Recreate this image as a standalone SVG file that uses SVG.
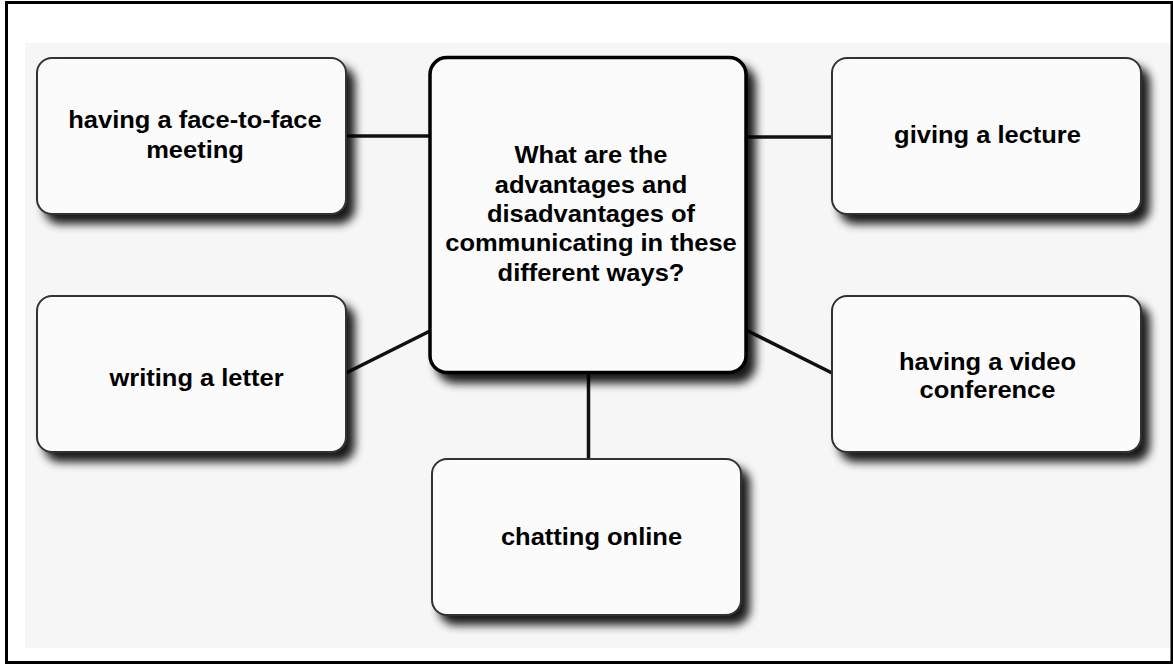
<svg xmlns="http://www.w3.org/2000/svg" width="1173" height="665" viewBox="0 0 1173 665">
  <defs>
    <filter id="shadow" x="-10%" y="-10%" width="130%" height="140%">
      <feGaussianBlur in="SourceAlpha" stdDeviation="5"/>
      <feOffset dx="8" dy="9" result="b"/>
      <feComponentTransfer><feFuncA type="linear" slope="0.9"/></feComponentTransfer>
      <feMerge><feMergeNode/><feMergeNode in="SourceGraphic"/></feMerge>
    </filter>
  </defs>
  <style>
    .node { fill: #fbfbfb; stroke: #333333; stroke-width: 2; filter: url(#shadow); }
    .hub { fill: #fbfbfb; stroke: #000000; stroke-width: 3.5; filter: url(#shadow); }
    .conn { stroke: #111111; stroke-width: 3.5; fill: none; }
    text { font-family: "Liberation Sans", Arial, sans-serif; font-weight: bold; font-size: 23.6px; fill: #000; text-anchor: middle; }
  </style>
  <rect x="0" y="0" width="1173" height="665" fill="#ffffff"/>
  <rect x="25" y="43" width="1146" height="605" fill="#f6f6f6"/>
  <rect x="6.5" y="2.5" width="1165.5" height="660" fill="none" stroke="#000000" stroke-width="3"/>

  <g id="connectors">
    <line class="conn" x1="346" y1="136" x2="430" y2="136"/>
    <line class="conn" x1="746" y1="137" x2="832" y2="137"/>
    <line class="conn" x1="346" y1="373" x2="430" y2="331"/>
    <line class="conn" x1="746" y1="330" x2="832" y2="373"/>
    <line class="conn" x1="588.5" y1="373" x2="588.5" y2="458"/>
  </g>

  <g id="node-center">
    <rect class="hub" x="430" y="57.5" width="316" height="315" rx="17" ry="17"/>
    <g transform="matrix(1.08 0 0 1 591 0)">
      <text x="0" y="163.5">What are the</text>
      <text x="0" y="192.8">advantages and</text>
      <text x="0" y="222.1">disadvantages of</text>
      <text x="0" y="251.4">communicating in these</text>
      <text x="0" y="280.7">different ways?</text>
    </g>
  </g>

  <g id="node-face">
    <rect class="node" x="37" y="58" width="309" height="156" rx="15" ry="15"/>
    <g transform="matrix(1.08 0 0 1 195 0)">
      <text x="0" y="128">having a face-to-face</text>
      <text x="0" y="158">meeting</text>
    </g>
  </g>

  <g id="node-lecture">
    <rect class="node" x="832" y="58" width="309" height="156" rx="15" ry="15"/>
    <g transform="matrix(1.08 0 0 1 987.5 0)">
      <text x="0" y="143">giving a lecture</text>
    </g>
  </g>

  <g id="node-letter">
    <rect class="node" x="37" y="296" width="309" height="156" rx="15" ry="15"/>
    <g transform="matrix(1.08 0 0 1 196.5 0)">
      <text x="0" y="386">writing a letter</text>
    </g>
  </g>

  <g id="node-video">
    <rect class="node" x="832" y="296" width="309" height="156" rx="15" ry="15"/>
    <g transform="matrix(1.08 0 0 1 987.5 0)">
      <text x="0" y="370">having a video</text>
      <text x="0" y="398">conference</text>
    </g>
  </g>

  <g id="node-chat">
    <rect class="node" x="432" y="459" width="309" height="156" rx="15" ry="15"/>
    <g transform="matrix(1.08 0 0 1 591.5 0)">
      <text x="0" y="545">chatting online</text>
    </g>
  </g>
</svg>
